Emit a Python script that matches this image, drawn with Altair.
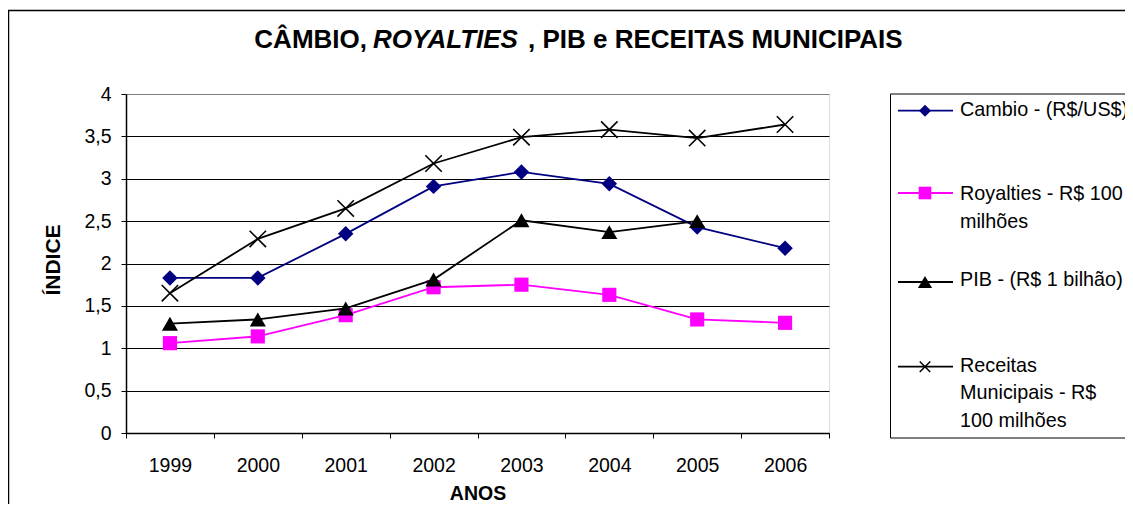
import altair as alt
import pandas as pd

# ---- data ----
years = ["1999", "2000", "2001", "2002", "2003", "2004", "2005", "2006"]
cambio = [1.83, 1.83, 2.35, 2.91, 3.08, 2.94, 2.43, 2.18]
royalties = [1.06, 1.14, 1.39, 1.72, 1.75, 1.63, 1.34, 1.30]
pib = [1.29, 1.34, 1.47, 1.81, 2.51, 2.37, 2.50, None]
receitas = [1.65, 2.29, 2.65, 3.18, 3.49, 3.58, 3.48, 3.64]

legend_lines = [
    ["Cambio - (R$/US$)"],
    ["Royalties - R$ 100", "milhões"],
    ["PIB - (R$ 1 bilhão)"],
    ["Receitas", "Municipais - R$", "100 milhões"],
]
title_parts = ["CÂMBIO,", "ROYALTIES", ", PIB e RECEITAS MUNICIPAIS"]
y_ticks = [0, 0.5, 1, 1.5, 2, 2.5, 3, 3.5, 4]

FONT = "Liberation Sans"
W, H = 703, 339

def frame(vals):
    return pd.DataFrame({"ano": years, "v": vals}).dropna()

x_enc = alt.X(
    "ano:O",
    scale=alt.Scale(type="band", domain=years, paddingInner=0, paddingOuter=0),
    axis=alt.Axis(
        title="ANOS", tickBand="extent", labelAngle=0, labelFontSize=19.5,
        labelColor="black", labelFont=FONT, labelBaseline="alphabetic",
        labelPadding=33, tickSize=5, tickColor="black", domainColor="black",
        domainWidth=1.5, grid=False, titleFontSize=19.5, titleFontWeight="bold",
        titleFont=FONT, titleColor="black", titleX=W / 2, titleY=66,
        titleBaseline="alphabetic", titleAlign="center",
    ),
)
y_enc = alt.Y(
    "v:Q",
    scale=alt.Scale(domain=[0, 4], nice=False, zero=True),
    axis=alt.Axis(
        title="ÍNDICE", values=y_ticks,
        labelExpr="replace(format(datum.value, '~g'), '.', ',')",
        labelFontSize=19.5, labelFont=FONT, labelColor="black", labelPadding=10,
        tickSize=5, tickColor="black", domainColor="black", domainWidth=1.5,
        grid=True, gridColor={"condition": {"test": "datum.value >= 4", "value": "#808080"}, "value": "#000000"},
        gridWidth=1, titleFontSize=21, titleFontWeight="bold", titleFont=FONT,
        titleColor="black", titleAngle=270, titleX=-73, titleY=H / 2 - 4,
        titleAlign="center", titleBaseline="middle",
    ),
)

specs = [
    (cambio, "#000080", "diamond", 240, True),
    (royalties, "#FF00FF", "square", 200, True),
    (pib, "#000000", "triangle-up", 260, True),
    (receitas, "#000000", "M-1,-1L1,1M-1,1L1,-1", 270, False),
]

one = pd.DataFrame({"k": [0]})

# outer chart frame (outline only)
outer = alt.Chart(one).mark_rect(fillOpacity=0, stroke="black", strokeWidth=1.5).encode(
    x=alt.value(-117.5), x2=alt.value(1200), y=alt.value(-83.5), y2=alt.value(600)
)

layers = [outer]
for vals, col, shape, size, filled in specs:
    d = frame(vals)
    line = alt.Chart(d).mark_line(color=col, strokeWidth=1.8).encode(x=x_enc, y=y_enc)
    if filled:
        pt = alt.Chart(d).mark_point(shape=shape, size=size, filled=True, fill=col,
                                     strokeWidth=0, opacity=1).encode(x=x_enc, y=y_enc)
    else:
        pt = alt.Chart(d).mark_point(shape=shape, size=size, filled=False, stroke=col,
                                     strokeWidth=1.6, opacity=1).encode(x=x_enc, y=y_enc)
    layers += [line, pt]

# title pieces
TFS = 26
layers.append(alt.Chart(one).mark_text(text=title_parts[0], font=FONT, fontSize=TFS, fontWeight="bold",
                                       align="right", baseline="alphabetic", color="black")
              .encode(x=alt.value(241), y=alt.value(-46)))
layers.append(alt.Chart(one).mark_text(text=title_parts[1], font=FONT, fontSize=TFS, fontWeight="bold",
                                       fontStyle="italic", align="left", baseline="alphabetic", color="black")
              .encode(x=alt.value(247), y=alt.value(-46)))
layers.append(alt.Chart(one).mark_text(text=title_parts[2], font=FONT, fontSize=TFS, fontWeight="bold",
                                       align="left", baseline="alphabetic", color="black")
              .encode(x=alt.value(402), y=alt.value(-46)))

# legend box
layers.append(alt.Chart(one).mark_rect(fill="white", stroke="black", strokeWidth=1).encode(
    x=alt.value(764.5), x2=alt.value(1200), y=alt.value(0), y2=alt.value(344)))

leg_line_y = [16.7, 99, 188, 272.7]
leg_text_y = [22, 106, 192, 277.7]
leg_sizes = [144, 160, 200, 110]
for i, (vals, col, shape, size, filled) in enumerate(specs):
    ly = leg_line_y[i]
    layers.append(alt.Chart(one).mark_rule(color=col, strokeWidth=1.8).encode(
        x=alt.value(772), x2=alt.value(827), y=alt.value(ly)))
    if filled:
        layers.append(alt.Chart(one).mark_point(shape=shape, size=leg_sizes[i], filled=True, fill=col,
                                                strokeWidth=0, opacity=1)
                      .encode(x=alt.value(799), y=alt.value(ly)))
    else:
        layers.append(alt.Chart(one).mark_point(shape=shape, size=leg_sizes[i], filled=False, stroke=col,
                                                strokeWidth=1.5, opacity=1)
                      .encode(x=alt.value(799), y=alt.value(ly)))
    layers.append(alt.Chart(one).mark_text(text="\n".join(legend_lines[i]), lineBreak="\n", lineHeight=27.5,
                                           font=FONT, fontSize=19.8, align="left", baseline="alphabetic",
                                           color="black")
                  .encode(x=alt.value(834), y=alt.value(leg_text_y[i])))

chart = alt.layer(*layers).properties(
    width=W, height=H,
    autosize=alt.AutoSizeParams(type="none"),
    padding={"left": 118, "top": 86, "right": 296, "bottom": 71},
    background="white",
).configure_view(fill="#C0C0C0", stroke="#808080", strokeWidth=1.5).configure(font=FONT)

chart.save("out.html", embed_options={"renderer": "svg", "actions": False})
